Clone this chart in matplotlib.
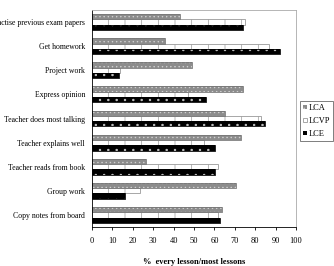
import numpy as np
import matplotlib
matplotlib.use("Agg")
from matplotlib import pyplot as plt

plt.rcParams['font.family'] = ['Liberation Serif', 'DejaVu Serif']
plt.rcParams['hatch.linewidth'] = 0.5

# categories, top to bottom
CATEGORIES = ['Practise previous exam papers', 'Get homework', 'Project work',
              'Express opinion', 'Teacher does most talking', 'Teacher explains well',
              'Teacher reads from book', 'Group work', 'Copy notes from board']

LCA = [43, 36, 49, 74, 65, 73, 26.5, 70.5, 63.5]
LCVP = [75, 87, 13.5, 47, 83, 55, 62, 23.5, 62]
LCE = [74, 92, 13, 56, 85, 60.5, 60.5, 16, 62.5]

X_TICKS = list(range(0, 101, 10))

fig = plt.figure(figsize=(3.34, 2.66), dpi=100)
ax = fig.add_axes([92/334, 1 - 227/266, 204/334, 217/266])

n = len(CATEGORIES)
y = np.arange(n)[::-1].astype(float)
h = 0.22

ax.barh(y + h, LCA, height=h, color='#8c8c8c', edgecolor='#d0d0d0',
        hatch='....', linewidth=0, label='LCA')
ax.barh(y, LCVP, height=h, color='white', edgecolor='#999999',
        hatch='|', linewidth=0.6, label='LCVP')
ax.barh(y - h, LCE, height=h, color='black', edgecolor='#cccccc',
        hatch='..', linewidth=0, label='LCE')
# outlines
ax.barh(y + h, LCA, height=h, fill=False, edgecolor='#777777', linewidth=0.6)
ax.barh(y - h, LCE, height=h, fill=False, edgecolor='black', linewidth=0.6)

ax.set_xlim(0, 100)
ax.set_ylim(-0.5, n - 0.5)
ax.set_xticks(X_TICKS)
ax.set_yticks(y)
ax.set_yticklabels(CATEGORIES, fontsize=5.6)
ax.tick_params(axis='x', labelsize=6, length=2.5, width=0.6, pad=5)
ax.tick_params(axis='y', length=0, pad=5)
ax.set_xlabel('%  every lesson/most lessons', fontsize=6, fontweight='bold', labelpad=9)

for s in ['top', 'right']:
    ax.spines[s].set_color('#aaaaaa')
    ax.spines[s].set_linewidth(0.6)
for s in ['left', 'bottom']:
    ax.spines[s].set_color('black')
    ax.spines[s].set_linewidth(0.6)

handles, labels = ax.get_legend_handles_labels()
leg = fig.legend(handles, labels, loc='upper left', bbox_to_anchor=(300/334, 1 - 101/266),
                 fontsize=6, frameon=True, fancybox=False, edgecolor='#444444',
                 handlelength=0.5, handleheight=0.5, handletextpad=0.2,
                 borderpad=0.35, labelspacing=0.6, borderaxespad=0)
leg.get_frame().set_linewidth(0.6)

fig.savefig('out.png', dpi=100)
